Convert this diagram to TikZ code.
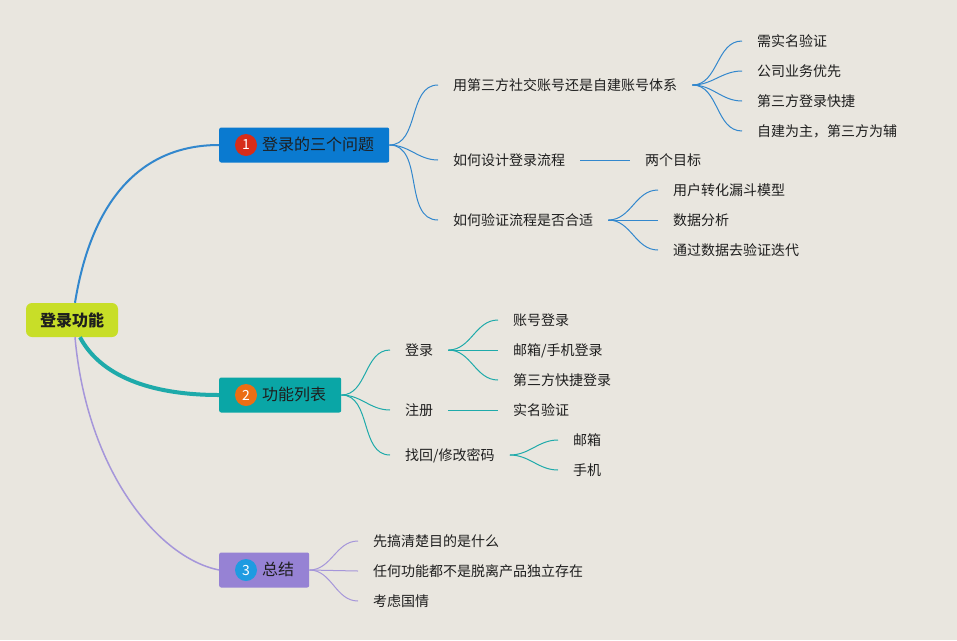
\documentclass[tikz,border=0pt]{standalone}
\usepackage{fontspec}
\setmainfont{Noto Sans CJK SC}
\definecolor{bg}{RGB}{233,230,223}
\definecolor{ink}{RGB}{30,30,30}
\definecolor{rootfill}{RGB}{200,222,40}
\definecolor{blueA}{RGB}{10,122,208}
\definecolor{blueL}{RGB}{50,135,205}
\definecolor{tealA}{RGB}{10,166,166}
\definecolor{tealL}{RGB}{30,170,170}
\definecolor{purpA}{RGB}{150,130,212}
\definecolor{purpL}{RGB}{165,150,218}
\definecolor{dotred}{RGB}{215,45,25}
\definecolor{dotorange}{RGB}{235,110,20}
\definecolor{dotblue}{RGB}{30,155,225}
\begin{document}
\begin{tikzpicture}[x=1pt,y=-1pt,
  every node/.style={font=\fontsize{14}{16}\selectfont,text=ink},
  leaf/.style={anchor=west,inner xsep=15pt,inner ysep=0pt,text height=11pt,text depth=1pt},
  topic/.style={anchor=west,rounded corners=2pt,minimum height=35pt,inner xsep=15pt,inner ysep=0pt,font=\fontsize{16}{18}\selectfont,text height=12pt,text depth=1.5pt},
  numdot/.style={circle,inner sep=0pt,minimum size=22pt,text=white,font=\fontsize{14}{16}\selectfont},
  fan/.style={out=0,in=180}]
\useasboundingbox[fill=bg] (0,0) rectangle (957,640);
% central topic
\node[fill=rootfill,rounded corners=6pt,minimum width=92pt,minimum height=34pt,inner sep=0pt,font=\fontsize{16}{18}\selectfont\bfseries] (root) at (72,320) {登录功能};
% main topics
\node[topic,fill=blueA] (b1) at (219,145) {\hspace{28pt}登录的三个问题};
\node[topic,fill=tealA] (b2) at (219,395) {\hspace{28pt}功能列表};
\node[topic,fill=purpA] (b3) at (219,570) {\hspace{28pt}总结};
\node[numdot,fill=dotred] (n1) at ([xshift=27pt]b1.west) {1};
\node[numdot,fill=dotorange] (n2) at ([xshift=27pt]b2.west) {2};
\node[numdot,fill=dotblue] (n3) at ([xshift=27pt]b3.west) {3};
\draw[blueL,line width=2pt] ([xshift=3pt]root.north) .. controls +(16,-100) and +(-80,0) .. (b1.west);
\draw[tealL,line width=4pt] ([xshift=8pt]root.south) .. controls +(20,38) and +(-70,0) .. (b2.west);
\draw[purpL,line width=1.5pt] ([xshift=3pt]root.south) .. controls +(12,135) and +(-60,-12) .. (b3.west);
% branch 1
\node[leaf] (c11) at (438,85) {用第三方社交账号还是自建账号体系};
\node[leaf] (c12) at (438,160) {如何设计登录流程};
\node[leaf] (c13) at (438,220) {如何验证流程是否合适};
\node[leaf] (d1) at (742,41) {需实名验证};
\node[leaf] (d2) at (742,71) {公司业务优先};
\node[leaf] (d3) at (742,101) {第三方登录快捷};
\node[leaf] (d4) at (742,131) {自建为主，第三方为辅};
\node[leaf] (e1) at (630,160) {两个目标};
\node[leaf] (f1) at (658,190) {用户转化漏斗模型};
\node[leaf] (f2) at (658,220) {数据分析};
\node[leaf] (f3) at (658,250) {通过数据去验证迭代};
\begin{scope}[blueL,line width=1pt]
\draw (b1.east) to[fan] (c11.west); \draw (b1.east) to[fan] (c12.west); \draw (b1.east) to[fan] (c13.west);
\draw (c11.east) to[fan] (d1.west); \draw (c11.east) to[fan] (d2.west);
\draw (c11.east) to[fan] (d3.west); \draw (c11.east) to[fan] (d4.west);
\draw (c12.east) -- (e1.west);
\draw (c13.east) to[fan] (f1.west); \draw (c13.east) -- (f2.west); \draw (c13.east) to[fan] (f3.west);
\end{scope}
% branch 2
\node[leaf] (g1) at (390,350) {登录};
\node[leaf] (g2) at (390,410) {注册};
\node[leaf] (g3) at (390,455) {找回/修改密码};
\node[leaf] (h1) at (498,320) {账号登录};
\node[leaf] (h2) at (498,350) {邮箱/手机登录};
\node[leaf] (h3) at (498,380) {第三方快捷登录};
\node[leaf] (h4) at (498,410) {实名验证};
\node[leaf] (k1) at (558,440) {邮箱};
\node[leaf] (k2) at (558,470) {手机};
\begin{scope}[tealL,line width=1pt]
\draw (b2.east) to[fan] (g1.west); \draw (b2.east) to[fan] (g2.west); \draw (b2.east) to[fan] (g3.west);
\draw (g1.east) to[fan] (h1.west); \draw (g1.east) -- (h2.west); \draw (g1.east) to[fan] (h3.west);
\draw (g2.east) -- (h4.west);
\draw (g3.east) to[fan] (k1.west); \draw (g3.east) to[fan] (k2.west);
\end{scope}
% branch 3
\node[leaf] (m1) at (358,541) {先搞清楚目的是什么};
\node[leaf] (m2) at (358,571) {任何功能都不是脱离产品独立存在};
\node[leaf] (m3) at (358,601) {考虑国情};
\begin{scope}[purpL,line width=1pt]
\draw (b3.east) to[fan] (m1.west); \draw (b3.east) -- (m2.west); \draw (b3.east) to[fan] (m3.west);
\end{scope}
\end{tikzpicture}
\end{document}
